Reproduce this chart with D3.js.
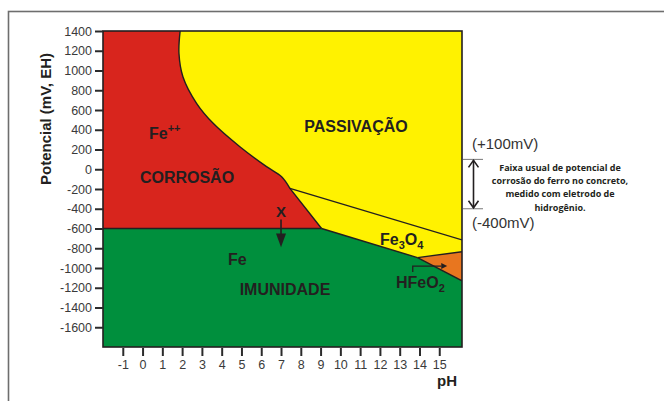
<!DOCTYPE html>
<html lang="pt">
<head>
    <meta charset="UTF-8">
    <title>Diagrama de Pourbaix do ferro</title>
    <style>
        body { margin: 0; background: #fff; }
        svg { display: block; font-family: "Liberation Sans", Arial, sans-serif; }
    </style>
</head>
<body>
    <svg id="pourbaix" width="664" height="401"></svg>

    <script src="https://d3js.org/d3.v7.min.js"></script>

    <script>
        // Axis ticks
        const phTicks = [-1, 0, 1, 2, 3, 4, 5, 6, 7, 8, 9, 10, 11, 12, 13, 14, 15];
        const mvTicks = [1400, 1200, 1000, 800, 600, 400, 200, 0, -200, -400, -600, -800, -1000, -1200, -1400, -1600];

        // Boundaries, as [pH, mV]
        const fe2Curve = [[1.9, 1400], [1.84, 1174], [2.04, 937], [2.73, 668], [3.57, 465],
                          [4.92, 228], [6.27, 26], [7.03, -75], [7.45, -193]];
        const triplePoint = [9.05, -600];
        const immunityLine = [[-2, -600], [9.05, -600]];
        const fe3o4Upper = [[7.45, -193], [16.15, -715]];
        const fe3o4Lower = [[9.05, -600], [13.9, -895]];
        const hfeo2Upper = [[13.9, -895], [16.15, -835]];
        const hfeo2Lower = [[13.9, -895], [16.15, -1130]];

        // Usual corrosion potential band in concrete
        const bandTop = 100;
        const bandBottom = -400;

        const svg = d3.select("#pourbaix");
        const ink = "#231f20";

        // outer frame
        svg.append("rect")
            .attr("x", 8.5).attr("y", 11.5)
            .attr("width", 700).attr("height", 500)
            .attr("fill", "none")
            .attr("stroke", "#6e6e6e")
            .attr("stroke-width", 1.6);

        const x = d3.scaleLinear().domain([-2, 16.15]).range([103, 462]);
        const y = d3.scaleLinear().domain([-1800, 1400]).range([347, 31]);

        const [x0, x1] = x.domain();
        const [y0, y1] = y.domain();

        const line = d3.line().x(d => x(d[0])).y(d => y(d[1]));
        const curve = d3.line().x(d => x(d[0])).y(d => y(d[1])).curve(d3.curveCatmullRom);

        svg.append("clipPath").attr("id", "plot-clip")
            .append("rect")
            .attr("x", x(x0)).attr("y", y(y1))
            .attr("width", x(x1) - x(x0)).attr("height", y(y0) - y(y1));

        const plot = svg.append("g").attr("clip-path", "url(#plot-clip)");

        // passivation background (yellow)
        plot.append("rect")
            .attr("x", x(x0)).attr("y", y(y1))
            .attr("width", x(x1) - x(x0)).attr("height", y(y0) - y(y1))
            .attr("fill", "#fff200");

        // corrosion region (red)
        const curvePath = curve(fe2Curve);
        const redPath = "M" + x(x0) + "," + y(y1) + "L" + curvePath.slice(1) +
            "L" + x(triplePoint[0]) + "," + y(triplePoint[1]) +
            "L" + x(x0) + "," + y(-600) + "Z";
        plot.append("path").attr("d", redPath).attr("fill", "#d8251d");

        // immunity region (green)
        plot.append("path")
            .attr("d", line([[x0, -600], triplePoint, fe3o4Lower[1], hfeo2Lower[1], [x1, y0], [x0, y0]]) + "Z")
            .attr("fill", "#008f3d");

        // HFeO2- region (orange)
        plot.append("path")
            .attr("d", line([hfeo2Upper[0], hfeo2Upper[1], hfeo2Lower[1]]) + "Z")
            .attr("fill", "#e8761f");

        // boundary lines
        const bound = plot.append("g")
            .attr("fill", "none")
            .attr("stroke", ink)
            .attr("stroke-width", 1.4);
        bound.append("path").attr("d", curvePath + "L" + x(triplePoint[0]) + "," + y(triplePoint[1]));
        [immunityLine, fe3o4Upper, fe3o4Lower, hfeo2Upper, hfeo2Lower].forEach(seg => {
            bound.append("path").attr("d", line(seg));
        });

        // plot border
        svg.append("rect")
            .attr("x", x(x0)).attr("y", y(y1))
            .attr("width", x(x1) - x(x0)).attr("height", y(y0) - y(y1))
            .attr("fill", "none")
            .attr("stroke", ink)
            .attr("stroke-width", 1.6);

        // axes
        const plain = d => String(d);
        const yAxis = svg.append("g")
            .attr("transform", `translate(${x(x0)},0)`)
            .call(d3.axisLeft(y).tickValues(mvTicks).tickFormat(plain).tickSize(8).tickPadding(3));
        const xAxis = svg.append("g")
            .attr("transform", `translate(0,${y(y0) + 1})`)
            .call(d3.axisBottom(x).tickValues(phTicks).tickFormat(plain).tickSize(8).tickPadding(4));
        [yAxis, xAxis].forEach(a => {
            a.select(".domain").remove();
            a.selectAll(".tick line").attr("stroke", "#2b2b2b").attr("stroke-width", 2);
            a.selectAll(".tick text")
                .attr("fill", "#3a3a3a")
                .style("font-size", "12.5px")
                .style("font-family", "'Liberation Sans', Arial, sans-serif");
        });

        // axis titles
        svg.append("text")
            .attr("transform", "translate(51,119) rotate(-90)")
            .attr("text-anchor", "middle")
            .attr("fill", ink)
            .style("font-size", "15px")
            .style("font-weight", "bold")
            .text("Potencial (mV, EH)");

        svg.append("text")
            .attr("x", 447).attr("y", 386)
            .attr("text-anchor", "middle")
            .attr("fill", ink)
            .style("font-size", "15px")
            .style("font-weight", "bold")
            .text("pH");

        // region labels
        const labels = svg.append("g")
            .attr("fill", ink)
            .style("font-weight", "bold")
            .style("font-size", "16px");

        const fe2 = labels.append("text").attr("x", 149).attr("y", 139);
        fe2.append("tspan").text("Fe");
        fe2.append("tspan").attr("dy", -7).style("font-size", "11px").text("++");

        labels.append("text").attr("x", 187).attr("y", 183).attr("text-anchor", "middle").text("CORROSÃO");
        labels.append("text").attr("x", 356).attr("y", 132).attr("text-anchor", "middle").text("PASSIVAÇÃO");
        labels.append("text").attr("x", x(7)).attr("y", 217).attr("text-anchor", "middle").style("font-size", "15px").text("X");
        labels.append("text").attr("x", 228).attr("y", 265).text("Fe");
        labels.append("text").attr("x", 285).attr("y", 295).attr("text-anchor", "middle").text("IMUNIDADE");

        const fe3o4 = labels.append("text").attr("x", 380).attr("y", 245);
        fe3o4.append("tspan").text("Fe");
        fe3o4.append("tspan").attr("dy", 4).style("font-size", "11px").text("3");
        fe3o4.append("tspan").attr("dy", -4).text("O");
        fe3o4.append("tspan").attr("dy", 4).style("font-size", "11px").text("4");

        const hfeo2 = labels.append("text").attr("x", 396).attr("y", 288);
        hfeo2.append("tspan").text("HFeO");
        hfeo2.append("tspan").attr("dy", 4).style("font-size", "11px").text("2");

        // X arrow (potential drop into immunity)
        svg.append("line")
            .attr("x1", x(7)).attr("x2", x(7))
            .attr("y1", y(-510)).attr("y2", y(-700))
            .attr("stroke", ink).attr("stroke-width", 1.6);
        svg.append("path")
            .attr("d", `M${x(7) - 5},${y(-650)}L${x(7) + 5},${y(-650)}L${x(7)},${y(-790)}Z`)
            .attr("fill", ink);

        // HFeO2 pointer arrow
        svg.append("path")
            .attr("d", line([[13.66, -1040], [13.66, -980], [15.1, -980]]))
            .attr("fill", "none").attr("stroke", ink).attr("stroke-width", 1.3);
        svg.append("path")
            .attr("d", `M${x(15.1)},${y(-980) - 3}L${x(15.4)},${y(-980)}L${x(15.1)},${y(-980) + 3}Z`)
            .attr("fill", ink);

        // corrosion band annotation
        const band = svg.append("g").attr("stroke", ink).attr("fill", "none");
        [bandTop, bandBottom].forEach(v => {
            band.append("line")
                .attr("x1", x(x1) + 1).attr("x2", 483)
                .attr("y1", y(v)).attr("y2", y(v))
                .attr("stroke", "#555").attr("stroke-width", 0.8);
        });
        band.append("line")
            .attr("x1", 473.5).attr("x2", 473.5)
            .attr("y1", y(bandTop) + 1).attr("y2", y(bandBottom) - 1)
            .attr("stroke-width", 1.6);
        band.append("path")
            .attr("d", `M468.5,${y(bandTop) + 8}L473.5,${y(bandTop) + 1}L478.5,${y(bandTop) + 8}`)
            .attr("stroke-width", 1.6);
        band.append("path")
            .attr("d", `M468.5,${y(bandBottom) - 8}L473.5,${y(bandBottom) - 1}L478.5,${y(bandBottom) - 8}`)
            .attr("stroke-width", 1.6);

        svg.append("text")
            .attr("x", 472).attr("y", y(bandTop) - 10)
            .attr("fill", "#333").style("font-size", "15px")
            .text("(+100mV)");
        svg.append("text")
            .attr("x", 472).attr("y", y(bandBottom) + 19)
            .attr("fill", "#333").style("font-size", "15px")
            .text("(-400mV)");

        const note = svg.append("text")
            .attr("text-anchor", "middle")
            .attr("fill", ink)
            .style("font-family", "'Open Sans', 'Noto Sans', sans-serif")
            .style("font-weight", "bold")
            .style("font-size", "9px");
        ["Faixa usual de potencial de", "corrosão do ferro no concreto,", "medido com eletrodo de", "hidrogênio."]
            .forEach((t, i) => {
                note.append("tspan").attr("x", 560).attr("y", 171 + i * 13.2).text(t);
            });
    </script>
</body>
</html>
